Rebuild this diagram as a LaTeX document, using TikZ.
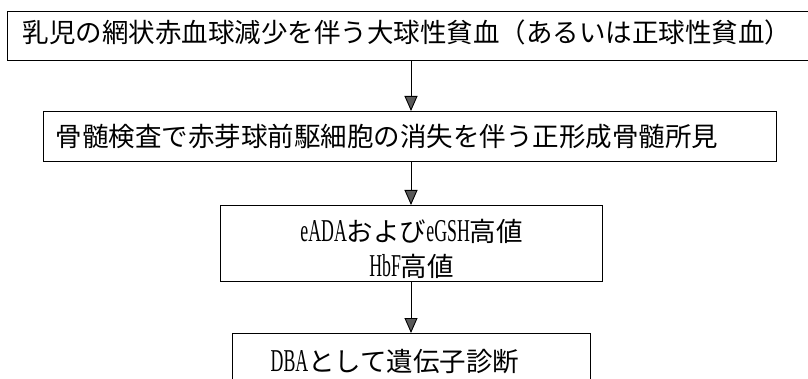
\documentclass[tikz,border=0pt]{standalone}
\usepackage{fontspec}
\setmainfont{Liberation Serif}[FakeStretch=0.56,Scale=1.2]
\newfontfamily\jp{Noto Sans CJK JP}
\usetikzlibrary{arrows.meta}
\begin{document}
\begin{tikzpicture}[x=1pt,y=-1pt,
  box/.style={draw, line width=1.3pt, inner ysep=0pt, font=\fontsize{26.5}{35}\selectfont},
  arr/.style={line width=0.9pt, -{Triangle[width=13pt,length=15pt,fill=black!65]}}]
\useasboundingbox (0,0) rectangle (808,379);
\clip (0,0) rectangle (808,379);
\node[box, anchor=north west, minimum height=49pt, text width=800pt, inner xsep=15pt,
      align=left, text height=23pt, text depth=11pt] (n1) at (7,11)
  {\jp 乳児の網状赤血球減少を伴う大球性貧血（あるいは正球性貧血）};
\node[box, anchor=north west, minimum height=50pt, text width=709pt, inner xsep=12pt,
      align=left, text height=23pt, text depth=3pt] (n2) at (43,111)
  {\jp 骨髄検査で赤芽球前駆細胞の消失を伴う正形成骨髄所見};
\node[box, anchor=north west, minimum width=382pt, minimum height=76pt, inner xsep=0pt,
      align=center] (n3) at (220,205)
  {\rule{0pt}{32pt}eADA{\jp および}eGSH{\jp 高値}\\HbF{\jp 高値}};
\node[box, anchor=north west, minimum height=56pt, text width=282pt, inner xsep=38pt,
      align=left, text height=23pt, text depth=3pt] (n4) at (232,333)
  {DBA{\jp として遺伝子診断}};
\coordinate (ax) at (411,0);
\draw[arr] (ax |- n1.south) -- (ax |- n2.north);
\draw[arr] (ax |- n2.south) -- (ax |- n3.north);
\draw[arr] (ax |- n3.south) -- (ax |- n4.north);
\end{tikzpicture}
\end{document}
